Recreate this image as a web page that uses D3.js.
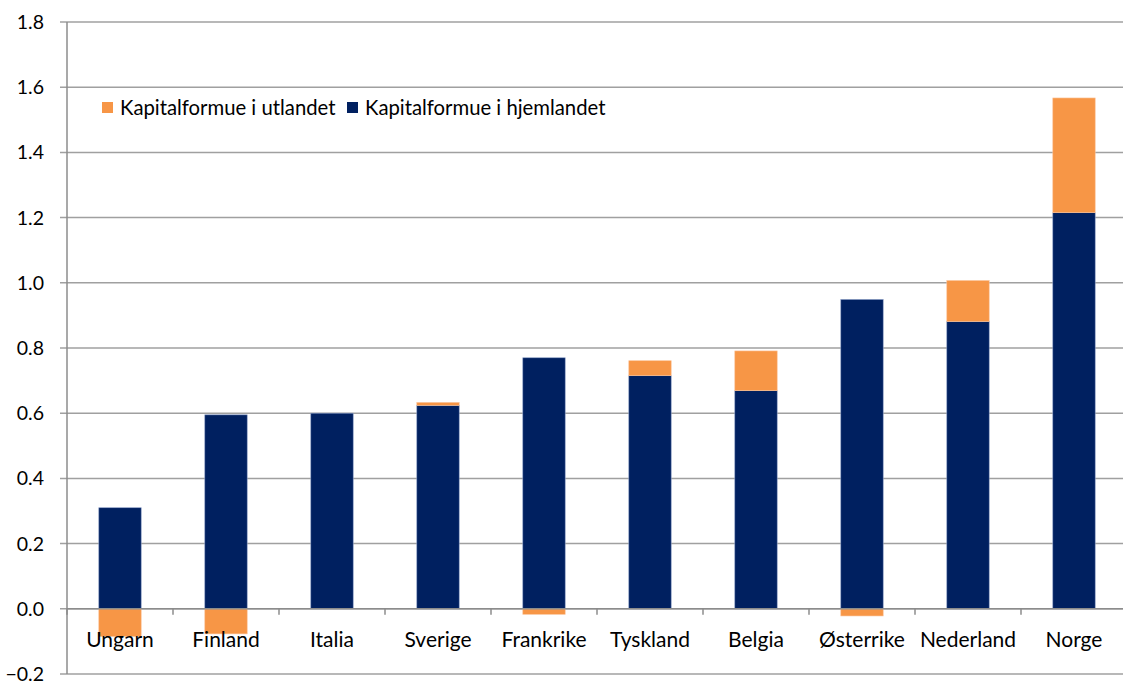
<!DOCTYPE html>
<html>
<head>
<meta charset="utf-8">
<script src="https://cdn.jsdelivr.net/npm/d3@7"></script>
<style>
  html, body { margin: 0; padding: 0; background: #fff; }
  svg { display: block; font-family: Lato, "Open Sans", sans-serif; }
</style>
</head>
<body>
<svg id="chart" width="1123" height="681"></svg>
<script>
// Capital wealth per country, domestic and foreign parts
const countries = ["Ungarn", "Finland", "Italia", "Sverige", "Frankrike", "Tyskland", "Belgia", "Østerrike", "Nederland", "Norge"];
const domestic = [0.31, 0.595, 0.60, 0.624, 0.77, 0.715, 0.669, 0.949, 0.881, 1.215];
const foreign = [-0.085, -0.077, 0.0, 0.009, -0.017, 0.046, 0.122, -0.022, 0.126, 0.352];
const yTicks = [-0.2, 0.0, 0.2, 0.4, 0.6, 0.8, 1.0, 1.2, 1.4, 1.6, 1.8];
const seriesNames = ["Kapitalformue i utlandet", "Kapitalformue i hjemlandet"];
const colors = { foreign: "#f79646", domestic: "#002060" };

const svg = d3.select("#chart");
const plotLeft = 67, plotRight = 1127, plotTop = 22, plotBottom = 674;

const x = d3.scaleBand().domain(countries).range([plotLeft, plotRight]).paddingInner(0.6).paddingOuter(0.3);
const y = d3.scaleLinear().domain([-0.2, 1.8]).range([plotBottom, plotTop]);

// horizontal gridlines with small left ticks
svg.append("g").selectAll("line").data(yTicks).join("line")
  .attr("x1", plotLeft - 7).attr("x2", plotRight)
  .attr("y1", d => y(d)).attr("y2", d => y(d))
  .attr("stroke", "#a0a0a0").attr("stroke-width", 1.5);

// y tick labels
svg.append("g").selectAll("text").data(yTicks).join("text")
  .attr("x", 44).attr("y", d => y(d) + 7)
  .attr("text-anchor", "end")
  .attr("font-size", 19.5).attr("fill", "#000")
  .text(d => d3.format(".1f")(d));

// stacked bars: domestic from zero upward, foreign on top if positive, below zero if negative
const rows = countries.map((c, i) => ({ c, dom: domestic[i], fgn: foreign[i] }));
const barW = x.bandwidth();
const bars = svg.append("g");
bars.selectAll("rect.dom").data(rows).join("rect").attr("class", "dom")
  .attr("x", d => x(d.c)).attr("width", barW)
  .attr("y", d => y(d.dom)).attr("height", d => y(0) - y(d.dom))
  .attr("fill", colors.domestic).attr("stroke", "#8da0c8").attr("stroke-width", 0.6);
bars.selectAll("rect.fgn").data(rows.filter(d => d.fgn !== 0)).join("rect").attr("class", "fgn")
  .attr("x", d => x(d.c)).attr("width", barW)
  .attr("y", d => d.fgn > 0 ? y(d.dom + d.fgn) : y(0))
  .attr("height", d => Math.abs(y(d.fgn) - y(0)))
  .attr("fill", colors.foreign).attr("stroke", "#fbc49a").attr("stroke-width", 0.6);

// left axis line
svg.append("line").attr("x1", plotLeft).attr("x2", plotLeft).attr("y1", plotTop).attr("y2", plotBottom)
  .attr("stroke", "#8c8c8c").attr("stroke-width", 1.5);

// zero baseline with category tick marks
svg.append("line").attr("x1", plotLeft).attr("x2", plotRight).attr("y1", y(0)).attr("y2", y(0))
  .attr("stroke", "#8c8c8c").attr("stroke-width", 1.5);
const step = x.step();
const catTicks = d3.range(countries.length + 1).map(i => plotLeft + i * step);
svg.append("g").selectAll("line").data(catTicks).join("line")
  .attr("x1", d => d).attr("x2", d => d)
  .attr("y1", y(0)).attr("y2", y(0) + 6)
  .attr("stroke", "#8c8c8c").attr("stroke-width", 1.5);

// category labels
svg.append("g").selectAll("text").data(countries).join("text")
  .attr("x", d => x(d) + barW / 2).attr("y", 647)
  .attr("text-anchor", "middle")
  .attr("font-size", 21).attr("fill", "#000")
  .text(d => d);

// legend
const legend = svg.append("g");
const legendItems = [
  { name: seriesNames[0], color: colors.foreign, x: 102 },
  { name: seriesNames[1], color: colors.domestic, x: 347 }
];
legendItems.forEach(it => {
  legend.append("rect").attr("x", it.x).attr("y", 102).attr("width", 11).attr("height", 11).attr("fill", it.color);
  legend.append("text").attr("x", it.x + 18).attr("y", 115)
    .attr("font-size", 20.3).attr("fill", "#000").text(it.name);
});
</script>
</body>
</html>
